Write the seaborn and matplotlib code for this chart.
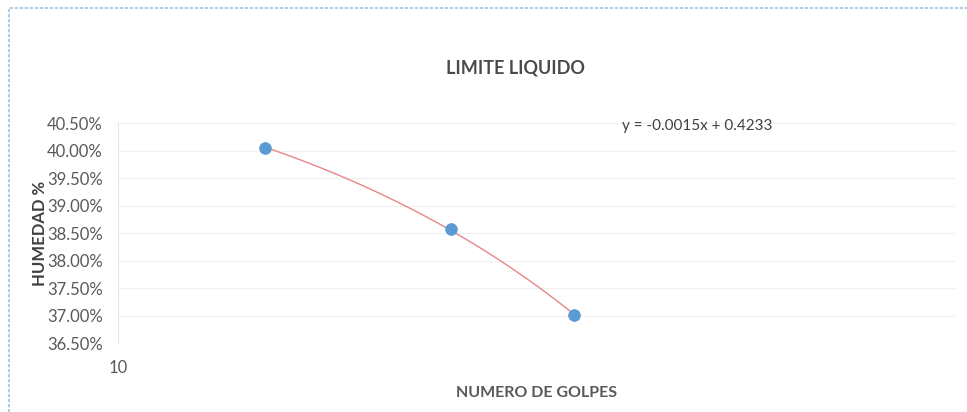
import numpy as np
import pandas as pd
import matplotlib.pyplot as plt
import seaborn as sns
from matplotlib.ticker import FixedLocator, FuncFormatter, NullLocator
from matplotlib.patches import Rectangle

# Liquid limit test data (blows vs moisture content)
golpes = [15, 25, 35]
humedad = [0.4005, 0.3857, 0.3702]
y_ticks = [0.365, 0.370, 0.375, 0.380, 0.385, 0.390, 0.395, 0.400, 0.405]

sns.set_style("white")
plt.rcParams['font.family'] = ['Lato', 'DejaVu Sans']

data = pd.DataFrame({'golpes': golpes, 'humedad': humedad})

# Linear trendline, drawn on the log x axis (that is why it looks curved)
slope, intercept = np.polyfit(data['golpes'], data['humedad'], 1)
xs = np.linspace(min(golpes), max(golpes), 100)
trend = pd.DataFrame({'golpes': xs, 'humedad': slope * xs + intercept})

fig = plt.figure(figsize=(9.67, 4.12), dpi=100)
ax = fig.add_axes([0.122, 0.167, 0.866, 0.534])

sns.lineplot(x='golpes', y='humedad', data=trend, ax=ax,
             color='#E8868A', linewidth=1.0, zorder=2)
sns.scatterplot(x='golpes', y='humedad', data=data, ax=ax,
                color='#5B9BD5', s=70, edgecolor='#5B9BD5', zorder=3)

ax.set_xscale('log')
ax.set_xlim(10, 100)
ax.set_ylim(0.365, 0.405)
ax.xaxis.set_major_locator(FixedLocator([10]))
ax.xaxis.set_minor_locator(NullLocator())
ax.xaxis.set_major_formatter(FuncFormatter(lambda v, p: f"{v:.0f}"))
ax.yaxis.set_major_locator(FixedLocator(y_ticks))
ax.yaxis.set_major_formatter(FuncFormatter(lambda v, p: f"{v * 100:.2f}%"))
ax.tick_params(axis='both', length=0, labelsize=12, colors='#595959')
ax.tick_params(axis='x', pad=12)
ax.tick_params(axis='y', pad=11)

ax.grid(axis='y', color='#F0F0F0', linewidth=0.8)
for s in ['top', 'right', 'bottom']:
    ax.spines[s].set_visible(False)
ax.spines['left'].set_color('#E6E6E6')
ax.spines['left'].set_linewidth(0.8)

ax.set_xlabel('NUMERO DE GOLPES', fontsize=11.5, fontweight='bold',
              color='#595959', labelpad=7)
ax.set_ylabel('HUMEDAD %', fontsize=12, fontweight='bold',
              color='#404040')
ax.yaxis.set_label_coords(-0.084, 0.5)

fig.text(0.533, 0.835, 'LIMITE LIQUIDO', ha='center', va='center',
         fontsize=13, fontweight='bold', color='#4a4a4a')
fig.text(0.643, 0.695, f"y = {slope:.4f}x + {intercept:.4f}", ha='left',
         va='center', fontsize=11, color='#404040')

# light blue dashed frame of the chart area
fig.patches.append(Rectangle((0.009, -0.05), 1.1, 1.03, transform=fig.transFigure,
                             fill=False, edgecolor='#9DC3E6', linestyle=(0, (2, 1)),
                             linewidth=1.2))

fig.savefig('out.png', dpi=100)
